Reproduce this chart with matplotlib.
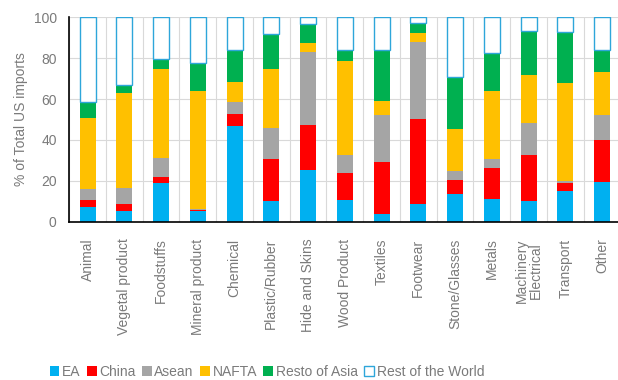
import matplotlib
matplotlib.use("Agg")
import matplotlib.pyplot as plt
import numpy as np

categories = [
    "Animal", "Vegetal product", "Foodstuffs", "Mineral product", "Chemical",
    "Plastic/Rubber", "Hide and Skins", "Wood Product", "Textiles", "Footwear",
    "Stone/Glasses", "Metals", "Machinery\nElectrical", "Transport", "Other",
]

# shares of total US imports (%) by origin, stacked bottom to top
ea = [7.3, 5.4, 19.0, 5.2, 46.7, 10.1, 25.5, 10.9, 4.1, 8.6, 13.5, 11.4, 10.1, 15.0, 19.5]
china = [3.3, 3.5, 3.0, 0.5, 6.1, 20.5, 22.0, 13.0, 25.2, 41.6, 6.8, 15.1, 22.4, 4.0, 20.3]
asean = [5.7, 7.8, 9.4, 0.6, 5.7, 15.4, 35.4, 8.6, 22.7, 37.6, 4.6, 4.4, 16.0, 0.8, 12.2]
nafta = [34.6, 46.2, 43.1, 57.4, 9.8, 28.5, 4.4, 45.9, 6.9, 4.4, 20.3, 32.8, 23.4, 48.0, 21.2]
resto_asia = [7.6, 3.8, 5.2, 13.9, 15.4, 17.4, 9.4, 5.3, 24.8, 4.9, 25.5, 18.7, 21.3, 24.7, 10.5]
rest_world = [100 - sum(v) for v in zip(ea, china, asean, nafta, resto_asia)]

series = [
    ("EA", ea, "#00B0F0"),
    ("China", china, "#FF0000"),
    ("Asean", asean, "#A5A5A5"),
    ("NAFTA", nafta, "#FFC000"),
    ("Resto of Asia", resto_asia, "#00B050"),
]

plt.rcParams["font.family"] = ["Liberation Sans", "DejaVu Sans"]
text_color = "#7A7A7A"

fig = plt.figure(figsize=(6.18, 3.8), dpi=100)
ax = fig.add_axes([0.112, 0.416, 0.892, 0.539])

x = np.arange(len(categories))
width = 0.44
bottom = np.zeros(len(categories))
for label, vals, color in series:
    ax.bar(x, vals, width, bottom=bottom, color=color, label=label, zorder=3)
    bottom += np.array(vals)
ax.bar(x, rest_world, width, bottom=bottom, facecolor="white",
       edgecolor="#2EA6DA", linewidth=1.0, label="Rest of the World", zorder=3)

ax.set_xlim(-0.5, len(categories) - 0.5)
ax.set_ylim(0, 100)
ax.set_yticks(range(0, 101, 20))
ax.set_xticks(x)
ax.set_xticklabels(categories, rotation=90, fontsize=10, color=text_color,
                   linespacing=1.0)
ax.set_xticks(np.arange(-0.5, len(categories)), minor=True)
ax.tick_params(axis="both", which="both", length=0)
ax.tick_params(axis="x", pad=12)
ax.tick_params(axis="y", labelsize=10, labelcolor=text_color, pad=9)

ax.grid(axis="y", color="#D9D9D9", linewidth=0.8, zorder=0)
ax.grid(axis="x", which="minor", color="#D9D9D9", linewidth=0.8, zorder=0)
ax.grid(axis="x", which="major", visible=False)

for side in ("top", "right"):
    ax.spines[side].set_visible(False)
for side in ("left", "bottom"):
    ax.spines[side].set_color("black")
    ax.spines[side].set_linewidth(1.2)
ax.spines["bottom"].set_zorder(4)

ax.set_ylabel("% of Total US imports", fontsize=10, color=text_color, labelpad=4)

fig.legend(loc="center left", bbox_to_anchor=(0.06, 0.022), ncol=6,
           frameon=False, fontsize=10, labelcolor=text_color,
           handlelength=0.7, handleheight=0.7, handletextpad=0.2,
           columnspacing=0.45)

fig.savefig("out.png", dpi=100)
